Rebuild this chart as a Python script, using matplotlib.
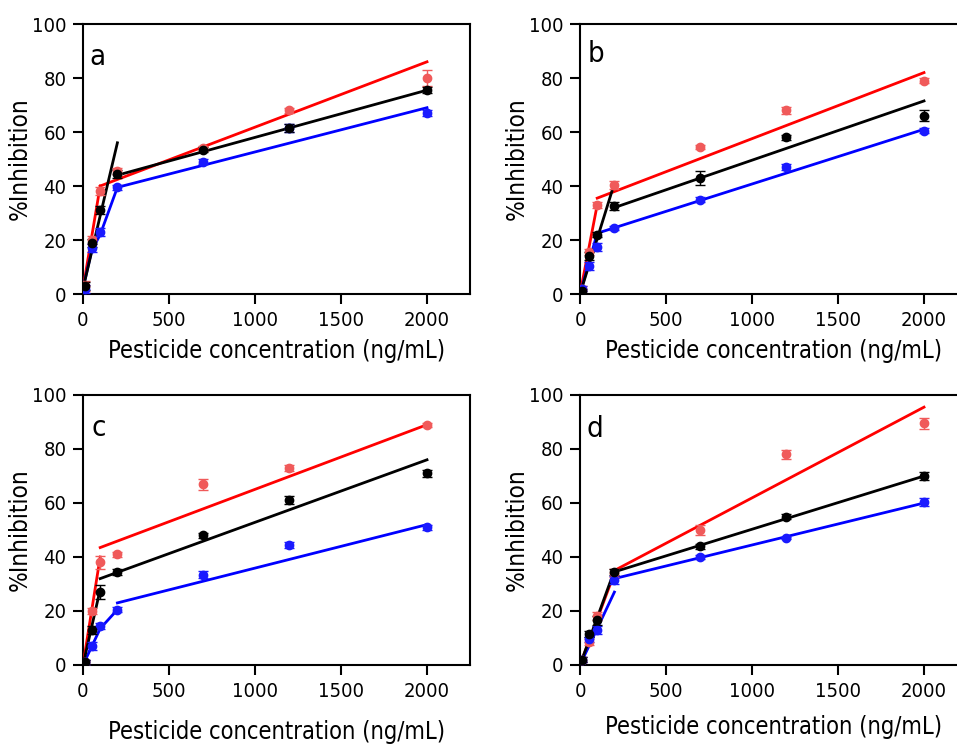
import matplotlib
matplotlib.use("Agg")
import matplotlib.pyplot as plt
from matplotlib import font_manager

# concentrations (ng/mL)
conc = [10, 50, 100, 200, 700, 1200, 2000]
x_ticks = [0, 500, 1000, 1500, 2000]
y_ticks = [0, 20, 40, 60, 80, 100]
panel_labels = ["a", "b", "c", "d"]

# %Inhibition, panel a
a_red = [3, 20, 38, 45.5, 54, 68, 80]
a_black = [3, 19, 31, 44.5, 53.5, 61.5, 75.5]
a_blue = [2, 17, 23, 39.5, 49, 61.5, 67]
a_red_err = [2, 1.5, 1.5, 1, 1, 1, 2.8]
a_black_err = [1.5, 1.5, 1.5, 1.5, 1, 1.5, 1]
a_blue_err = [1.5, 1.5, 1.5, 1, 1, 1.5, 1]
# fitted segments (x list, y list)
a_red_lo = ([0, 100], [2, 40])
a_red_hi = ([100, 2000], [40, 86])
a_black_lo = ([0, 200], [2, 56])
a_black_hi = ([200, 2000], [44, 75.5])
a_blue_lo = ([0, 50, 100, 200], [2, 16, 22, 39.5])
a_blue_hi = ([200, 2000], [39.5, 69])

# panel b
b_red = [2, 15.5, 33, 40.5, 54.5, 68, 79]
b_black = [1, 14, 22, 32.5, 43, 58, 66]
b_blue = [2, 10.5, 17.5, 24.5, 35, 47, 60.5]
b_red_err = [1, 1, 1, 1.5, 0.8, 1.2, 1]
b_black_err = [1, 1.5, 1, 1.5, 2.5, 1, 2]
b_blue_err = [1, 1.5, 1.5, 0.8, 1, 1, 1]
b_red_lo = ([0, 100], [0, 33])
b_red_hi = ([100, 2000], [35.5, 82])
b_black_lo = ([0, 200], [0, 41])
b_black_hi = ([200, 2000], [32, 71.5])
b_blue_lo = ([0, 100], [0, 22.5])
b_blue_hi = ([100, 2000], [22.5, 61])

# panel c
c_red = [1, 20, 38, 41, 67, 73, 89]
c_black = [1, 13, 27, 34.5, 48, 61, 71]
c_blue = [1, 7, 14.5, 20.5, 33.5, 44.5, 51]
c_red_err = [1, 1, 2.5, 1, 2, 1, 0.8]
c_black_err = [1, 1.5, 2.5, 1, 1, 1.5, 1.2]
c_blue_err = [1, 1.5, 1, 1, 1.2, 1, 1]
c_red_lo = ([0, 100], [0, 40])
c_red_hi = ([100, 2000], [43.5, 89])
c_black_lo = ([0, 100], [0, 28])
c_black_hi = ([100, 2000], [32, 76])
c_blue_lo = ([0, 100, 200], [0, 13.5, 20.5])
c_blue_hi = ([200, 2000], [23, 52])

# panel d
d_red = [2, 8.5, 18, 34, 50, 78, 89.5]
d_black = [2, 11.5, 16.5, 34.5, 44, 55, 70]
d_blue = [2, 9.5, 13, 31.5, 40, 47, 60.5]
d_red_err = [1, 1, 1.5, 1.5, 2, 1.8, 2]
d_black_err = [1, 1, 1.5, 1, 1, 1, 1.5]
d_blue_err = [1, 1, 1.5, 1.5, 0.8, 0.5, 1.5]
d_red_lo = ([0, 200], [0, 34])
d_red_hi = ([200, 2000], [35, 95.5])
d_black_lo = ([0, 200], [0, 35])
d_black_hi = ([200, 2000], [34.5, 70])
d_blue_lo = ([0, 200], [0, 27])
d_blue_hi = ([200, 2000], [32, 60])

panels = [
    (a_red, a_black, a_blue, a_red_err, a_black_err, a_blue_err,
     [a_red_lo, a_red_hi], [a_black_lo, a_black_hi], [a_blue_lo, a_blue_hi]),
    (b_red, b_black, b_blue, b_red_err, b_black_err, b_blue_err,
     [b_red_lo, b_red_hi], [b_black_lo, b_black_hi], [b_blue_lo, b_blue_hi]),
    (c_red, c_black, c_blue, c_red_err, c_black_err, c_blue_err,
     [c_red_lo, c_red_hi], [c_black_lo, c_black_hi], [c_blue_lo, c_blue_hi]),
    (d_red, d_black, d_blue, d_red_err, d_black_err, d_blue_err,
     [d_red_lo, d_red_hi], [d_black_lo, d_black_hi], [d_blue_lo, d_blue_hi]),
]

line_colors = ["#ff0000", "#000000", "#0000ff"]
point_colors = ["#f05a5a", "#000000", "#1a1aff"]

# Tahoma-like: condensed DejaVu if the system has it
plt.rcParams["font.family"] = ["DejaVu Sans"]
plt.rcParams["font.stretch"] = "condensed"
print(font_manager.findfont(font_manager.FontProperties(family="DejaVu Sans", stretch="condensed")))

W, H = 957, 745
fig = plt.figure(figsize=(W / 100, H / 100), dpi=100)

# axes boxes in pixels: left, top
boxes = [(83, 24), (580, 24), (83, 395), (580, 395)]
ax_w, ax_h = 387, 270
xlabel_pad = [7, 7, 14, 10]
letter_pos = [(0.016, 0.848), (0.02, 0.859), (0.023, 0.85), (0.018, 0.844)]

for i, (left, top) in enumerate(boxes):
    ax = fig.add_axes([left / W, (H - top - ax_h) / H, ax_w / W, ax_h / H])
    red, black, blue, red_e, black_e, blue_e, red_f, black_f, blue_f = panels[i]
    series = [(red, red_e, red_f), (black, black_e, black_f), (blue, blue_e, blue_f)]
    # red first, blue next, black on top
    for k in [0, 2, 1]:
        ys, es, fits = series[k]
        for fx, fy in fits:
            ax.plot(fx, fy, color=line_colors[k], lw=2, zorder=3)
        ax.errorbar(conc, ys, yerr=es, fmt="o", color=point_colors[k],
                    ms=6, elinewidth=1, capsize=3.5, capthick=1, zorder=4)

    ax.set_xlim(0, 2250)
    ax.set_ylim(0, 100)
    ax.set_xticks(x_ticks)
    ax.set_yticks(y_ticks)
    for sp in ax.spines.values():
        sp.set_linewidth(1.5)
    ax.tick_params(direction="out", length=7, width=1.5, labelsize=14.5, pad=5)
    ax.set_xlabel("Pesticide concentration (ng/mL)", fontsize=17, labelpad=xlabel_pad[i])
    ax.set_ylabel("%Inhibition", fontsize=17.5, labelpad=0)
    lx, ly = letter_pos[i]
    ax.text(lx, ly, panel_labels[i], transform=ax.transAxes, fontsize=21,
            va="baseline")

fig.savefig("out.png", dpi=100)
